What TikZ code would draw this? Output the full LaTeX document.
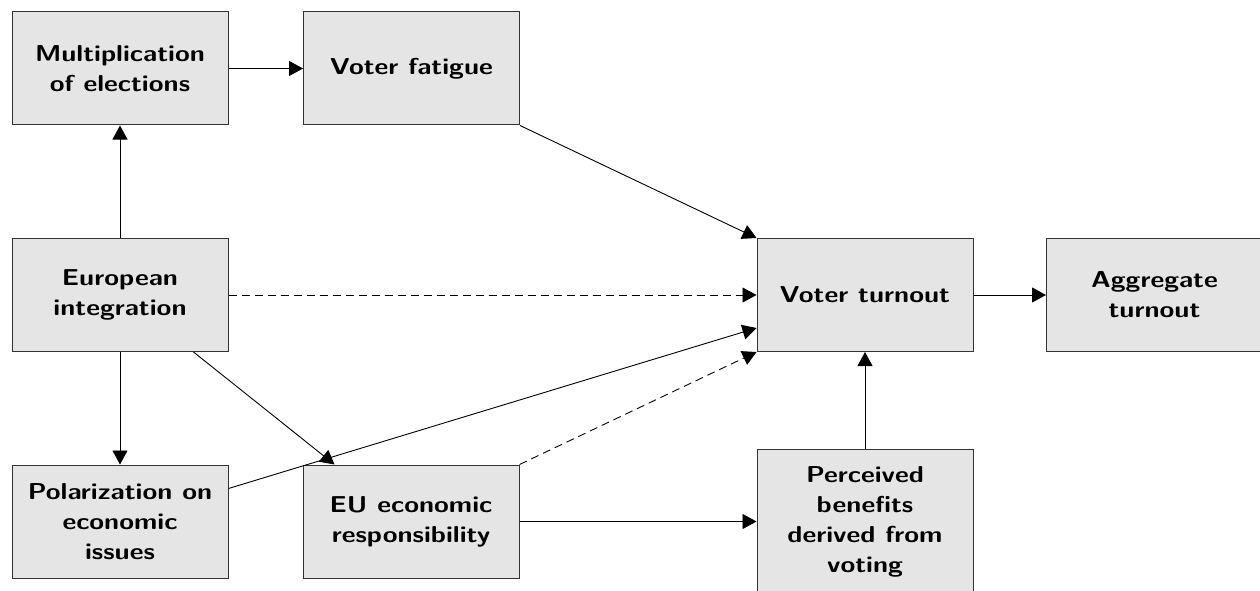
\documentclass[tikz,border=0pt]{standalone}
\usepackage{fontspec}
\setsansfont{Latin Modern Sans}[FakeStretch=1.17]
\usetikzlibrary{arrows.meta}
\begin{document}
\begin{tikzpicture}[x=1pt,y=-1pt,
  box/.style={draw=black!80, fill=black!10, line width=1pt, minimum width=216pt, minimum height=113pt,
    align=center, inner sep=2pt, font=\sffamily\bfseries\fontsize{23}{30}\selectfont},
  conn/.style={line width=0.9pt, -{Triangle[length=14pt,width=15pt]}},
  dsh/.style={conn, dash pattern=on 8pt off 5pt}]
\useasboundingbox (0,0) rectangle (1260,591);
\node[box] (mul) at (120,68.5) {Multiplication\\of elections};
\node[box] (fat) at (411.5,68.5) {Voter fatigue};
\node[box] (eur) at (120,295) {European\\integration};
\node[box] (pol) at (120,521.5) {Polarization on\\economic\\issues};
\node[box] (eco) at (411,521.5) {EU economic\\responsibility};
\node[box] (vt) at (865,295) {Voter turnout};
\node[box] (agg) at (1154.5,295) {Aggregate\\turnout};
\node[box, anchor=north, minimum height=144pt] (per) at (865,449) {Perceived\\benefits\\derived from\\voting};
\draw[conn] (mul) -- (fat);
\draw[conn] (eur) -- (mul);
\draw[conn] (eur) -- (pol);
\draw[conn] ([xshift=-35pt]eur.south east) -- ([xshift=32pt]eco.north west);
\draw[dsh] (eur) -- (vt);
\draw[conn] (fat.south east) -- (vt.north west);
\draw[conn] ([yshift=33pt]pol.east) -- ([yshift=-33pt]vt.west);
\draw[dsh] (eco.north east) -- (vt.south west);
\draw[conn] (eco.east) -- (eco.east -| per.west);
\draw[conn] (per) -- (vt);
\draw[conn] (vt) -- (agg);
\end{tikzpicture}
\end{document}
